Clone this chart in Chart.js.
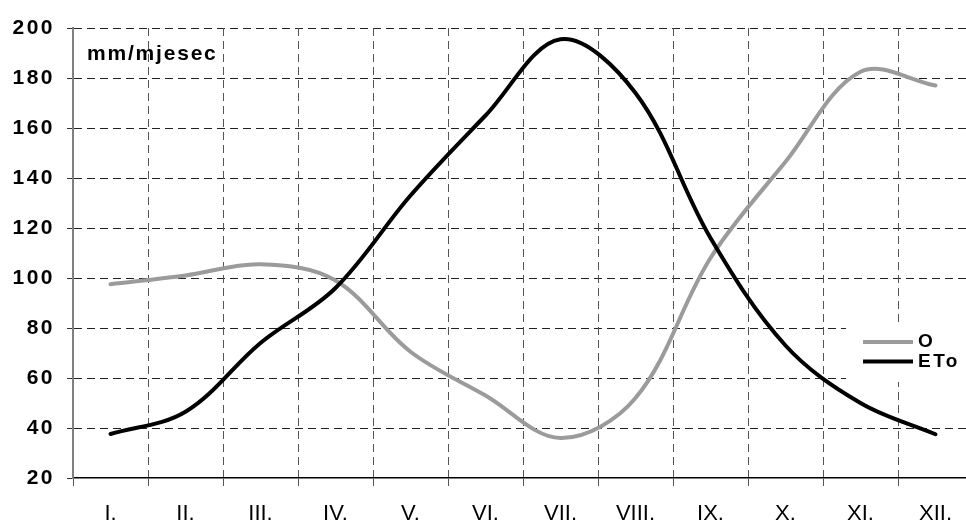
<!DOCTYPE html>
<html>
<head>
<meta charset="utf-8">
<title>O i ETo</title>
<script src="https://cdn.jsdelivr.net/npm/chart.js@4.4.0/dist/chart.umd.min.js"></script>
<style>
  html, body { margin: 0; padding: 0; background: #fff; overflow: hidden; }
  #wrap { width: 966px; height: 525px; overflow: hidden; }
</style>
</head>
<body>
<div id="wrap"><canvas id="chart" width="980" height="525"></canvas></div>
<script>
// monthly values, mm/mjesec
const months = ['I.', 'II.', 'III.', 'IV.', 'V.', 'VI.', 'VII.', 'VIII.', 'IX.', 'X.', 'XI.', 'XII.'];
const oValues = [97.5, 101, 105.5, 99, 70.5, 53, 36, 52, 108, 146.5, 182.5, 177];
const etoValues = [37.6, 46.5, 74, 96, 133, 165, 195.5, 174, 116, 73, 50, 37.5];
const yMin = 20;
const yMax = 200;
const yStep = 20;
const unitLabel = 'mm/mjesec';

const FONT = '"Liberation Sans", Arial, sans-serif';
const DASH = [8, 5];

// y tick labels get wider letter spacing; x labels (z: 1) are drawn after the datasets without it
const spacing = {
    id: 'spacing',
    beforeDraw(chart) {
        chart.ctx.letterSpacing = '2.5px';
    },
    afterDatasetsDraw(chart) {
        chart.ctx.letterSpacing = '0px';
    }
};

// dashed grid inside the plot, taken from the scales' tick positions
const dashedGrid = {
    id: 'dashedGrid',
    beforeDatasetsDraw(chart) {
        const ctx = chart.ctx;
        const a = chart.chartArea;
        const x = chart.scales.x;
        const y = chart.scales.y;
        ctx.save();
        ctx.lineWidth = 1;
        ctx.setLineDash(DASH);
        ctx.strokeStyle = '#222';
        y.ticks.forEach((t, i) => {
            if (t.value === yMin) return;
            const py = Math.round(y.getPixelForTick(i)) + 0.5;
            ctx.beginPath();
            ctx.moveTo(a.left + 1, py);
            ctx.lineTo(a.right, py);
            ctx.stroke();
        });
        ctx.strokeStyle = '#555';
        for (let i = 1; i < months.length; i++) {
            const px = Math.round((x.getPixelForTick(i - 1) + x.getPixelForTick(i)) / 2) + 0.5;
            ctx.beginPath();
            ctx.moveTo(px, a.top);
            ctx.lineTo(px, a.bottom - 1);
            ctx.stroke();
        }
        ctx.restore();
    }
};

// unit text inside the plot and the legend box on the right
const overlay = {
    id: 'overlay',
    afterDraw(chart) {
        const ctx = chart.ctx;
        const area = chart.chartArea;
        ctx.save();
        ctx.setLineDash([]);
        ctx.fillStyle = '#000';
        ctx.font = 'bold 21px ' + FONT;
        ctx.letterSpacing = '1.8px';
        ctx.textAlign = 'left';
        ctx.textBaseline = 'alphabetic';
        ctx.fillText(unitLabel, area.left + 14, area.top + 32);

        ctx.fillStyle = '#fff';
        ctx.fillRect(846, 324, 140, 58);
        ctx.font = 'bold 19px ' + FONT;
        ctx.letterSpacing = '2.5px';
        ctx.textBaseline = 'middle';
        chart.data.datasets.forEach((ds, i) => {
            const y = 342 + i * 19.5;
            ctx.strokeStyle = ds.borderColor;
            ctx.lineWidth = 4;
            ctx.beginPath();
            ctx.moveTo(863, y);
            ctx.lineTo(913, y);
            ctx.stroke();
            ctx.fillStyle = '#000';
            ctx.fillText(ds.label, 918, y);
        });
        ctx.restore();
    }
};

new Chart(document.getElementById('chart').getContext('2d'), {
    type: 'line',
    data: {
        labels: months,
        datasets: [{
            label: 'O',
            data: oValues,
            borderColor: '#9b9b9b',
            borderWidth: 4,
            order: 1
        }, {
            label: 'ETo',
            data: etoValues,
            borderColor: '#000000',
            borderWidth: 4,
            order: 0
        }]
    },
    options: {
        responsive: false,
        animation: false,
        layout: {
            padding: { top: 28, right: 7, left: 0, bottom: 0 }
        },
        elements: {
            point: { radius: 0 },
            line: { tension: 0.35, fill: false, borderCapStyle: 'round' }
        },
        plugins: {
            legend: { display: false },
            tooltip: { enabled: false }
        },
        scales: {
            x: {
                offset: true,
                grid: {
                    offset: true,
                    drawOnChartArea: false,
                    tickLength: 8,
                    tickColor: '#555'
                },
                border: { color: '#000', width: 1.5 },
                ticks: {
                    color: '#000',
                    font: { family: FONT, size: 22 },
                    padding: 15,
                    maxRotation: 0,
                    autoSkip: false,
                    z: 1
                },
                afterFit(scale) {
                    scale.height = 47;
                }
            },
            y: {
                min: yMin,
                max: yMax,
                grid: {
                    drawOnChartArea: false,
                    tickLength: 6,
                    tickColor: '#333'
                },
                border: { color: '#808080', width: 2 },
                ticks: {
                    stepSize: yStep,
                    color: '#000',
                    font: { family: FONT, size: 21, weight: 'bold' },
                    padding: 12
                },
                afterFit(scale) {
                    scale.width = 73;
                }
            }
        }
    },
    plugins: [spacing, dashedGrid, overlay]
});
</script>
</body>
</html>
